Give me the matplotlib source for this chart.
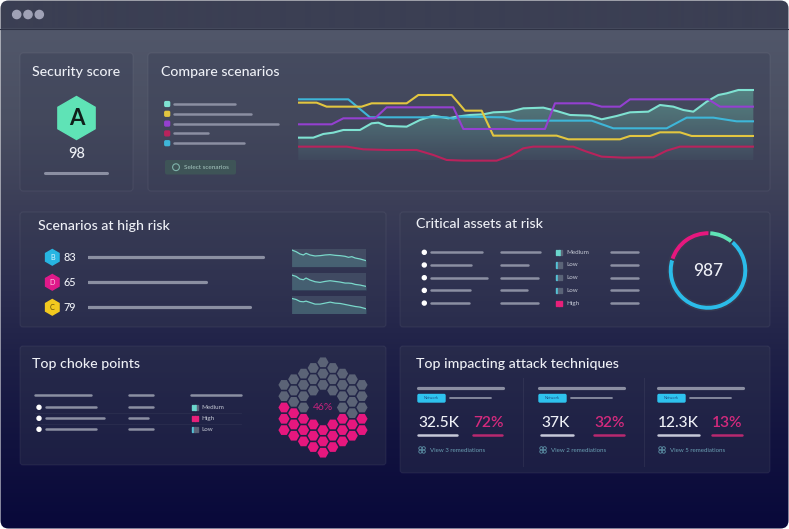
import numpy as np
import matplotlib
matplotlib.use("Agg")
import matplotlib.pyplot as plt
from matplotlib.patches import FancyBboxPatch, RegularPolygon, Circle, Rectangle, Polygon

W, H = 789, 529

# ------------------------------------------------------------------ data
security_grade = "A"
security_score = 98

scenario_colors = ["#7fe2d2", "#e2c640", "#9440d0", "#b8235c", "#3eb6d8"]
legend_bar_ends = [235, 251, 278, 208, 244]

teal_x = [2.5, 7, 10, 13, 16, 21, 24.5, 26.5, 29, 35, 39, 43, 47.5, 50, 54, 58, 61, 66,
          70, 76, 80, 84, 90, 93.5, 98, 102, 107.5, 111, 115, 118, 121, 125, 128.5, 131,
          134.5, 139]
teal_v = [77, 77, 88, 92, 100, 100, 120, 122, 112, 110, 130, 143, 135, 140, 145, 147, 153,
          155, 165, 167, 157, 145, 143, 132, 142, 153, 155, 175, 170, 160, 155, 185, 205,
          210, 220, 220]
yellow_x = [2.5, 8, 11, 21.5, 24.5, 35, 38.5, 48.5, 52.5, 57.5, 61, 80, 83.5, 99, 102, 108,
            111, 117, 120.5, 139]
yellow_v = [182, 182, 170, 170, 180, 180, 205, 205, 158, 158, 83, 83, 72, 72, 82, 82, 93,
            93, 82, 82]
purple_x = [2.5, 12.5, 16, 25.5, 29, 49, 52, 76.5, 79.5, 90, 93.5, 99, 102, 125.5, 129, 139]
purple_v = [117, 117, 135, 135, 168, 168, 103, 103, 180, 180, 170, 170, 192, 192, 170, 170]
crimson_x = [2.5, 17, 22, 29, 38, 43, 47, 52, 62, 66, 70, 73, 85, 89, 93.5, 100, 109, 113,
             117, 139]
crimson_v = [50, 50, 42, 40, 40, 25, 10, 8, 8, 22, 45, 50, 50, 35, 20, 17, 18, 38, 50, 50]
cyan_x = [2.5, 17.5, 24, 47, 49, 51, 64, 68, 90.5, 97, 113, 119, 127, 134, 139]
cyan_v = [192, 192, 138, 138, 134, 140, 138, 128, 128, 105, 105, 137, 137, 126, 126]

risk_letters = ["B", "D", "C"]
risk_scores = [83, 65, 79]
risk_badge_colors = ["#27b5e2", "#e0198a", "#f2c91f"]
risk_letter_colors = ["#d8f3ff", "#ffc8e6", "#5e4a0c"]
spark_x = [35, 48, 60, 70, 78, 90, 105, 120, 135, 150, 165, 180, 195, 205, 215, 225, 240, 258]
spark_b = [50, 45, 38, 35, 40, 35, 32, 33, 35, 36, 34, 33, 31, 28, 30, 26, 23, 18]
spark_d = [45, 41, 33, 31, 36, 30, 25, 23, 26, 28, 26, 24, 21, 21, 20, 17, 15, 11]
spark_c = [45, 42, 36, 35, 37, 33, 28, 28, 31, 34, 31, 30, 27, 25, 23, 21, 19, 14]

asset_levels = ["Medium", "Low", "Low", "Low", "High"]
asset_name_ends = [482, 471, 487, 470, 469]
asset_type_ends = [540, 528, 538, 527, 538]
asset_segments = ["Medium", "Low", "High"]
asset_counts = [104, 678, 205]
asset_total = 987

choke_levels = ["Medium", "High", "Low"]
choke_name_ends = [96, 104, 96]
choke_type_ends = [153, 148, 153]
choke_pct = 46
choke_high_per_col = [3, 3, 3, 3, 3, 3, 3, 2, 2]

tech_counts = ["32.5K", "37K", "12.3K"]
tech_pcts = ["72%", "32%", "13%"]
tech_remediations = [3, 2, 5]

# ------------------------------------------------------------------ style
FONT = "Lato"
WHITE = "#eef0f6"
GREY = "#8b8fa2"
PINK = "#e6177e"
MINT = "#5fe3b6"
CYAN = "#2bbce9"
level_colors = {"Medium": ("#6bd6cc", 2), "Low": ("#55c2d6", 1), "High": ("#e8207a", 3)}

fig = plt.figure(figsize=(W / 100, H / 100), dpi=100)
fig.patch.set_facecolor("white")
B = fig.add_axes([0, 0, 1, 1])
B.set_xlim(0, W)
B.set_ylim(H, 0)
B.axis("off")


def px_axes(x0, y0, x1, y1):
    a = fig.add_axes([x0 / W, 1 - y1 / H, (x1 - x0) / W, (y1 - y0) / H])
    a.patch.set_alpha(0)
    a.axis("off")
    return a


def txt(x, y, s, size, color=WHITE, ha="left", **kw):
    B.text(x, y, s, fontsize=size, color=color, ha=ha, va="center",
           family=FONT, zorder=6, **kw)


def hline(x0, x1, y, lw=2.0, color=GREY, alpha=1.0):
    B.plot([x0, x1], [y, y], color=color, lw=lw, solid_capstyle="round",
           alpha=alpha, zorder=4)


# window + background gradient
win = FancyBboxPatch((0.5, 0.5), W - 1, H - 1, boxstyle="round,pad=0,rounding_size=8",
                     fc="none", ec="none")
B.add_patch(win)
stop_y = [0, 28, 29, 120, 200, 280, 360, 440, 529]
stop_c = ["#3b3f53", "#3b3f53", "#51576a", "#4a4f62", "#3c3f58", "#2d2f50",
          "#1e2047", "#12133f", "#08083a"]
rgb = np.array([matplotlib.colors.to_rgb(c) for c in stop_c])
yy = np.arange(H) + 0.5
grad = np.stack([np.interp(yy, stop_y, rgb[:, k]) for k in range(3)], axis=-1)[:, None, :]
im = B.imshow(grad, extent=(0, W, H, 0), aspect="auto", zorder=0, interpolation="bilinear")
im.set_clip_path(win)
B.set_xlim(0, W)
B.set_ylim(H, 0)
B.plot([0, W], [28.5, 28.5], color="#2f3345", lw=0.8, zorder=1)
for cx in (16.7, 28, 39.3):
    B.add_patch(Circle((cx, 14.5), 4.1, color="#a0a2b6", zorder=2))

# panels
panels = [(20, 53, 133, 191), (148, 53, 770, 191), (20, 212, 386, 327),
          (400, 212, 770, 327), (20, 346, 386, 465), (400, 346, 770, 473)]
for x0, y0, x1, y1 in panels:
    B.add_patch(FancyBboxPatch((x0, y0), x1 - x0, y1 - y0,
                               boxstyle="round,pad=0,rounding_size=3",
                               fc=(0.21, 0.23, 0.32, 0.35), ec=(1, 1, 1, 0.06),
                               lw=0.8, zorder=1))

# titles
TS = 10.2
TW = "medium"
txt(32, 72, "Security score", TS, weight=TW)
txt(161, 72, "Compare scenarios", TS, weight=TW)
txt(38, 226, "Scenarios at high risk", TS, weight=TW)
txt(416, 224.5, "Critical assets at risk", TS, weight=TW)
txt(32, 364, "Top choke points", TS, weight=TW)
txt(416, 364, "Top impacting attack techniques", TS, weight=TW)

# ---------------------------------------------------------- security score
B.add_patch(RegularPolygon((76.5, 118), 6, radius=21.5, color=MINT, zorder=3))
txt(76.5, 118.5, security_grade, 16, color="#0f1f1a", ha="center", weight="bold")
txt(76.5, 154, str(security_score), 10.5, ha="center", weight=TW)
hline(45, 107, 172.5, lw=2.2)

# ---------------------------------------------------------- compare scenarios
for i, c in enumerate(scenario_colors):
    y = 104 + 9.8 * i
    B.add_patch(FancyBboxPatch((164.8, y - 2.4), 4.8, 4.8, boxstyle="round,pad=0,rounding_size=1",
                               color=c, zorder=4))
    hline(174, legend_bar_ends[i], y, lw=1.8)
B.add_patch(FancyBboxPatch((165, 160), 71, 14.5, boxstyle="round,pad=0,rounding_size=2",
                           fc="#3e5457", ec="none", zorder=3))
B.add_patch(Circle((176, 167.2), 3.4, fc="none", ec="#7fb3ab", lw=0.8, zorder=4))
txt(184, 167.4, "Select scenarios", 4.6, color="#a6c6c0")

ax = px_axes(298.3, 80, 754, 163.3)
ax.set_xlim(2.5, 139.2)
ax.set_ylim(0, 250)
fill_poly = Polygon(np.vstack([np.column_stack([teal_x, teal_v]),
                               [[teal_x[-1], 10], [teal_x[0], 10]]]),
                    closed=True, fc="none", ec="none")
ax.add_patch(fill_poly)
ga = np.zeros((200, 1, 4))
ga[..., 0], ga[..., 1], ga[..., 2] = 0.42, 0.80, 0.70
ga[:, 0, 3] = np.linspace(0.45, 0.05, 200)
gim = ax.imshow(ga, extent=(2.5, 139.2, 10, 225), aspect="auto", origin="upper", zorder=1)
gim.set_clip_path(fill_poly)
ax.set_xlim(2.5, 139.2)
ax.set_ylim(0, 250)
for xs, vs, c in [(crimson_x, crimson_v, scenario_colors[3]),
                  (teal_x, teal_v, scenario_colors[0]),
                  (cyan_x, cyan_v, scenario_colors[4]),
                  (yellow_x, yellow_v, scenario_colors[1]),
                  (purple_x, purple_v, scenario_colors[2])]:
    ax.plot(xs, vs, color=c, lw=1.5, solid_joinstyle="round", zorder=3)

# ---------------------------------------------------------- scenarios at high risk
for i, (L, s, bc, lc) in enumerate(zip(risk_letters, risk_scores, risk_badge_colors,
                                        risk_letter_colors)):
    y = 257.3 + 25 * i
    B.add_patch(RegularPolygon((52.3, y), 6, radius=7.8, color=bc, zorder=3))
    txt(52.3, y + 0.3, L, 5.2, color=lc, ha="center")
    txt(63.5, y, str(s), 7.8, weight=TW)

bar_scale = 3.17  # pixels per score point
axb = px_axes(88, 244.8, 290, 319.8)
axb.set_xlim(88 / bar_scale, 290 / bar_scale)
axb.set_ylim(2.5, -0.5)
axb.hlines(range(len(risk_scores)), 88 / bar_scale, risk_scores, color=GREY, lw=2.3,
           capstyle="round")

for i, sv in enumerate([spark_b, spark_d, spark_c]):
    top = 249.3 + 23.4 * i
    axs = fig.add_axes([291.7 / W, 1 - (top + 17.4) / H, 74.5 / W, 17.4 / H])
    axs.set_facecolor((0.45, 0.56, 0.60, 0.25))
    for sp in axs.spines.values():
        sp.set_visible(False)
    axs.set_xticks([])
    axs.set_yticks([])
    axs.set_xlim(spark_x[0], spark_x[-1])
    axs.set_ylim(0, 52)
    axs.fill_between(spark_x, sv, 0, color="#5fc8b8", alpha=0.18, lw=0)
    axs.plot(spark_x, sv, color="#7ad9cb", lw=0.9)

# ---------------------------------------------------------- critical assets
def level_icon(x, y, level):
    col, n = level_colors[level]
    for k in range(3):
        B.add_patch(Rectangle((x + k * 2.3, y - 2.6), 1.4, 5.2,
                              color=col if k < n else "#5b6478", zorder=4))


for i, lev in enumerate(asset_levels):
    y = 252.3 + 12.7 * i
    B.add_patch(Circle((424.3, y), 2.0, color="white", zorder=4))
    hline(431, asset_name_ends[i], y, lw=1.8)
    hline(501.5, asset_type_ends[i], y, lw=1.8)
    level_icon(556, y, lev)
    txt(566, y, lev, 4.5, color="#c4c8d4")
    hline(611, 638, y, lw=1.8)

axd = px_axes(667.5, 230, 748.5, 311)
axd.pie(asset_counts, colors=[MINT, CYAN, PINK], startangle=88, counterclock=False,
        radius=1.0, wedgeprops=dict(width=0.14, edgecolor="#363a52", linewidth=1.2))
axd.set_xlim(-1.01, 1.01)
axd.set_ylim(-1.01, 1.01)
axd.set_aspect("equal")
txt(708, 270.5, str(asset_total), 12.5, ha="center", weight=TW)

# ---------------------------------------------------------- top choke points
hline(35, 91, 395, lw=1.8)
hline(129, 153, 395, lw=1.8)
hline(191, 241, 395, lw=1.8)
for i, lev in enumerate(choke_levels):
    y = 407.3 + 11 * i
    B.add_patch(Circle((39, y), 2.0, color="white", zorder=4))
    hline(46, choke_name_ends[i], y, lw=1.8)
    hline(129.5, choke_type_ends[i], y, lw=1.8)
    level_icon(192, y, lev)
    txt(201.5, y, lev, 4.5, color="#c4c8d4")
    if i < 2:
        B.plot([35, 241], [y + 5.5, y + 5.5], color="white", alpha=0.05, lw=0.6, zorder=3)

axh = px_axes(270, 354, 376, 461)
axh.set_xlim(-53, 53)
axh.set_ylim(53.5, -53.5)
R = (len(choke_high_per_col) - 1) // 2
for ci, q in enumerate(range(-R, R + 1)):
    cells = []
    for r in range(max(-R, -R - q), min(R, R - q) + 1):
        if max(abs(q), abs(r), abs(q + r)) <= 1:
            continue
        cells.append(r + q / 2)
    cells.sort()
    n_high = choke_high_per_col[ci]
    for k, yv in enumerate(cells):
        col = PINK if k >= len(cells) - n_high else "#5b6376"
        axh.add_patch(RegularPolygon((q * 9.75, yv * 11.3), 6, radius=5.6,
                                     orientation=np.pi / 6, color=col, lw=0))
txt(323, 408, f"{choke_pct}%", 7.5, color="#c8237e", ha="center")

# ---------------------------------------------------------- top impacting techniques
col_x = [418, 539, 658]
num_x = [418, 541, 658]
pct_x = [473, 594.5, 712]
num_ul = [457, 573, 699]
pct_ul = [502, 624, 742]
for i in range(3):
    x0 = col_x[i]
    hline(x0, x0 + 85, 388, lw=2.3)
    B.add_patch(FancyBboxPatch((x0, 394.5), 27, 7.5, boxstyle="round,pad=0,rounding_size=1",
                               color="#2ec2ee", zorder=4))
    txt(x0 + 13.5, 398.3, "Network", 2.8, color="#1d4f86", ha="center")
    hline(x0 + 32, x0 + 73, 398.3, lw=1.3)
    txt(num_x[i], 423, tech_counts[i], 11.2, weight=TW)
    txt(pct_x[i], 423, tech_pcts[i], 11.2, color="#d42a7d", weight="semibold")
    hline(num_x[i], num_ul[i], 434.5, lw=1.8, color="#c6c8d8")
    hline(pct_x[i], pct_ul[i], 434.5, lw=1.8, color="#b8286f")
    for dx in (0, 3.3):
        for dy in (0, 3.3):
            B.add_patch(Circle((x0 + 2.4 + dx, 448.3 + dy), 1.6, fc="none", ec="#5e93a8",
                               lw=0.6, zorder=4))
    txt(x0 + 12, 450.3, f"View {tech_remediations[i]} remediations", 4.4, color="#6a9fb3")
for sx in (523, 644):
    B.plot([sx, sx], [378, 466], color="white", alpha=0.06, lw=0.8, zorder=3)

fig.savefig("out.png", dpi=100, facecolor="white")
